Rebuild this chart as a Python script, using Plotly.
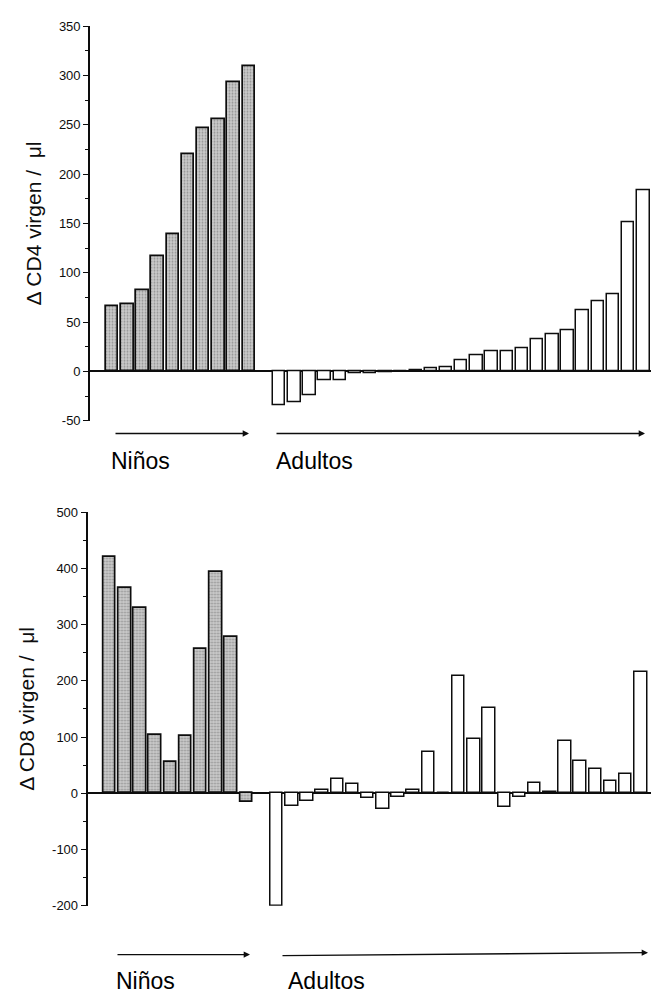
import plotly.graph_objects as go

# Change in naive CD4 / CD8 counts (cells/µl), children vs adults
cd4_ninos = [66, 68, 82, 117, 139, 220, 247, 256, 293, 309]
cd4_adultos = [-34, -31, -24, -9, -9, -2, -2, -1, 0.5, 1,
               3, 4, 11, 16, 20, 20, 24, 33, 38, 42,
               62, 71, 78, 151, 184]

cd8_ninos = [420, 365, 330, 103, 55, 102, 256, 393, 277, -15]
cd8_adultos = [-200, -23, -13, 5, 25, 16, -8, -28, -6, 5,
               74, 0, 208, 97, 151, -24, -6, 19, 3, 93,
               58, 44, 22, 35, 215]

ticks_cd4 = [-50, 0, 50, 100, 150, 200, 250, 300, 350]
ticks_cd8 = [-200, -100, 0, 100, 200, 300, 400, 500]

ylab_cd4 = "Δ CD4 virgen /\u00a0\u00a0μl"
ylab_cd8 = "Δ CD8 virgen /\u00a0\u00a0μl"
grupo_ninos = "Niños"
grupo_adultos = "Adultos"

W, H = 651, 1002
FONT = "Liberation Sans, Arial, sans-serif"
INK = "#0d0d0d"

# children occupy slots 0..9, one empty slot, then the adults
pos_ninos = list(range(len(cd4_ninos)))
pos_adultos = [len(cd4_ninos) + 1 + i for i in range(len(cd4_adultos))]

child_marker = dict(
    color="#b8b8b8",
    line=dict(color=INK, width=1.7),
    pattern=dict(shape=".", fgcolor="#5e5e5e", bgcolor="#cbcbcb",
                 size=3, solidity=0.35),
)
adult_marker = dict(color="white", line=dict(color=INK, width=1.5))

fig = go.Figure()
fig.add_trace(go.Bar(x=pos_ninos, y=cd4_ninos, width=0.82, marker=child_marker,
                     xaxis="x", yaxis="y", showlegend=False))
fig.add_trace(go.Bar(x=pos_adultos, y=cd4_adultos, width=0.82, marker=adult_marker,
                     xaxis="x", yaxis="y", showlegend=False))
fig.add_trace(go.Bar(x=pos_ninos, y=cd8_ninos, width=0.82, marker=child_marker,
                     xaxis="x2", yaxis="y2", showlegend=False))
fig.add_trace(go.Bar(x=pos_adultos, y=cd8_adultos, width=0.82, marker=adult_marker,
                     xaxis="x2", yaxis="y2", showlegend=False))


def px_x(v):
    return v / W


def px_y(v):
    return 1 - v / H


def tick_text(vals):
    # plain hyphen for negatives, as in the printed figure
    return [str(v) for v in vals]


hidden_x = dict(showline=False, showgrid=False, zeroline=False,
                showticklabels=False, ticks="")

yaxis_common = dict(
    showline=True, linecolor=INK, linewidth=1.6,
    ticks="outside", ticklen=5, tickwidth=1.3, tickcolor=INK,
    showgrid=False, zeroline=True, zerolinecolor=INK, zerolinewidth=1.6,
    tickfont=dict(family=FONT, size=13, color=INK),
)


def ytitle(text):
    return dict(text=text, font=dict(family=FONT, size=21, color=INK), standoff=12)


fig.update_layout(
    width=W, height=H, autosize=False,
    margin=dict(l=0, r=0, t=0, b=0, pad=0),
    paper_bgcolor="white", plot_bgcolor="white",
    bargap=0,
    xaxis=dict(domain=[px_x(90), 1], range=[-1.46, 35.5], anchor="y", **hidden_x),
    yaxis=dict(domain=[px_y(420), px_y(19.5)], range=[-50, 350], anchor="x",
               tickmode="array", tickvals=ticks_cd4, ticktext=tick_text(ticks_cd4),
               minor=dict(dtick=25, ticklen=3, ticks="outside", tickcolor=INK),
               title=ytitle(ylab_cd4), **yaxis_common),
    xaxis2=dict(domain=[px_x(87.5), 1], range=[-1.46, 35.67], anchor="y2", **hidden_x),
    yaxis2=dict(domain=[px_y(912.5), px_y(512.7)], range=[-200, 500], anchor="x2",
                tickmode="array", tickvals=ticks_cd8, ticktext=tick_text(ticks_cd8),
                minor=dict(dtick=50, ticklen=3, ticks="outside", tickcolor=INK),
                title=ytitle(ylab_cd8), **yaxis_common),
)

annotations = []


def arrow(x0, x1, y0, y1):
    annotations.append(dict(
        xref="paper", yref="paper", x=px_x(x1), y=px_y(y1),
        axref="pixel", ayref="pixel", ax=x0 - x1, ay=y0 - y1,
        text="", showarrow=True, arrowhead=2, arrowsize=0.9,
        arrowwidth=1.4, arrowcolor=INK,
    ))


def label(text, x, y):
    annotations.append(dict(
        xref="paper", yref="paper", x=px_x(x), y=px_y(y),
        xanchor="left", yanchor="middle", showarrow=False, text=text,
        font=dict(family=FONT, size=23, color="#000000"),
    ))


# group arrows and names under each panel
arrow(114, 249, 433, 433)
arrow(275, 645, 433, 433)
label(grupo_ninos, 109, 461)
label(grupo_adultos, 274, 461)

arrow(116, 250, 962, 962)
arrow(281, 648, 963, 960)
label(grupo_ninos, 114, 989)
label(grupo_adultos, 286, 989)

fig.update_layout(annotations=annotations)

fig.write_html("out.html")
